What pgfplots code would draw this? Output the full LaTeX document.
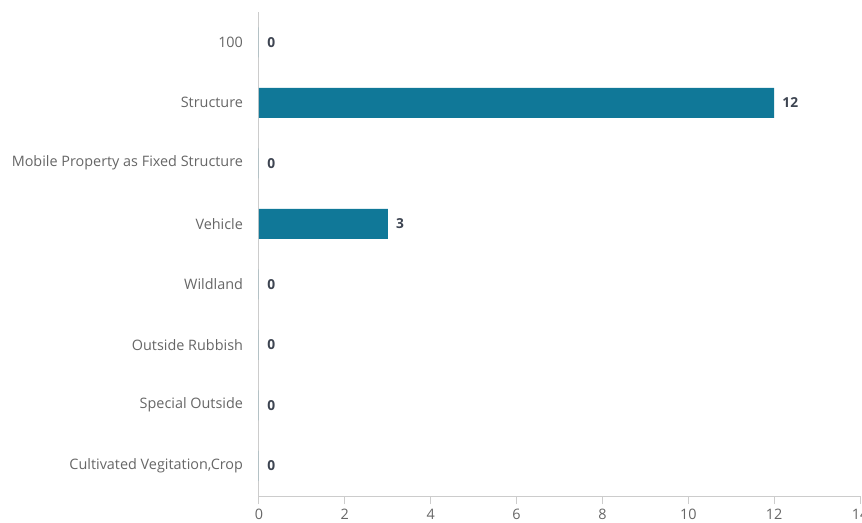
\documentclass[border=0pt]{standalone}
\usepackage{fontspec}
\setmainfont{Open Sans}
\usepackage{pgfplots}
\pgfplotsset{compat=1.18}
\definecolor{barc}{HTML}{107898}
\definecolor{axc}{HTML}{CCCCCC}
\definecolor{labc}{HTML}{666666}
\definecolor{valc}{HTML}{3D4451}
\begin{document}
\begin{tikzpicture}
\path[use as bounding box] (-194.25pt,-20.25pt) rectangle (452.25pt,372pt);
\begin{axis}[
  at={(0,0)}, anchor=south west,
  scale only axis, width=450.75pt, height=363pt,
  xbar, bar width=22.5pt,
  xmin=0, xmax=14, xtick={0,2,...,14},
  ymin=-0.5, ymax=7.5, y dir=reverse,
  ytick={0,...,7},
  yticklabels={100,Structure,Mobile Property as Fixed Structure,Vehicle,Wildland,Outside Rubbish,Special Outside,{Cultivated Vegitation,Crop}},
  axis x line*=bottom, axis y line*=left,
  axis line style={axc, line width=0.75pt, -},
  x axis line style={-}, y axis line style={-},
  major tick length=6pt,
  xtick style={axc, line width=0.75pt},
  xtick align=outside,
  ytick style={draw=none},
  tick label style={font=\fontsize{10.8pt}{12pt}\selectfont, text=labc},
  /pgf/number format/assume math mode=true,
  yticklabel style={xshift=-2.5pt},
  xticklabel style={yshift=0pt},
  nodes near coords,
  nodes near coords style={font=\fontsize{10.3pt}{12pt}\selectfont\bfseries, text=valc, anchor=west, inner sep=0pt, xshift=6pt},
  point meta=explicit symbolic,
  clip=false,
]
\addplot[fill=barc, draw=none] coordinates {
 (0,0) [0]
 (12,1) [12]
 (0,2) [0]
 (3,3) [3]
 (0,4) [0]
 (0,5) [0]
 (0,6) [0]
 (0,7) [0]
};
\end{axis}
\end{tikzpicture}
\end{document}
